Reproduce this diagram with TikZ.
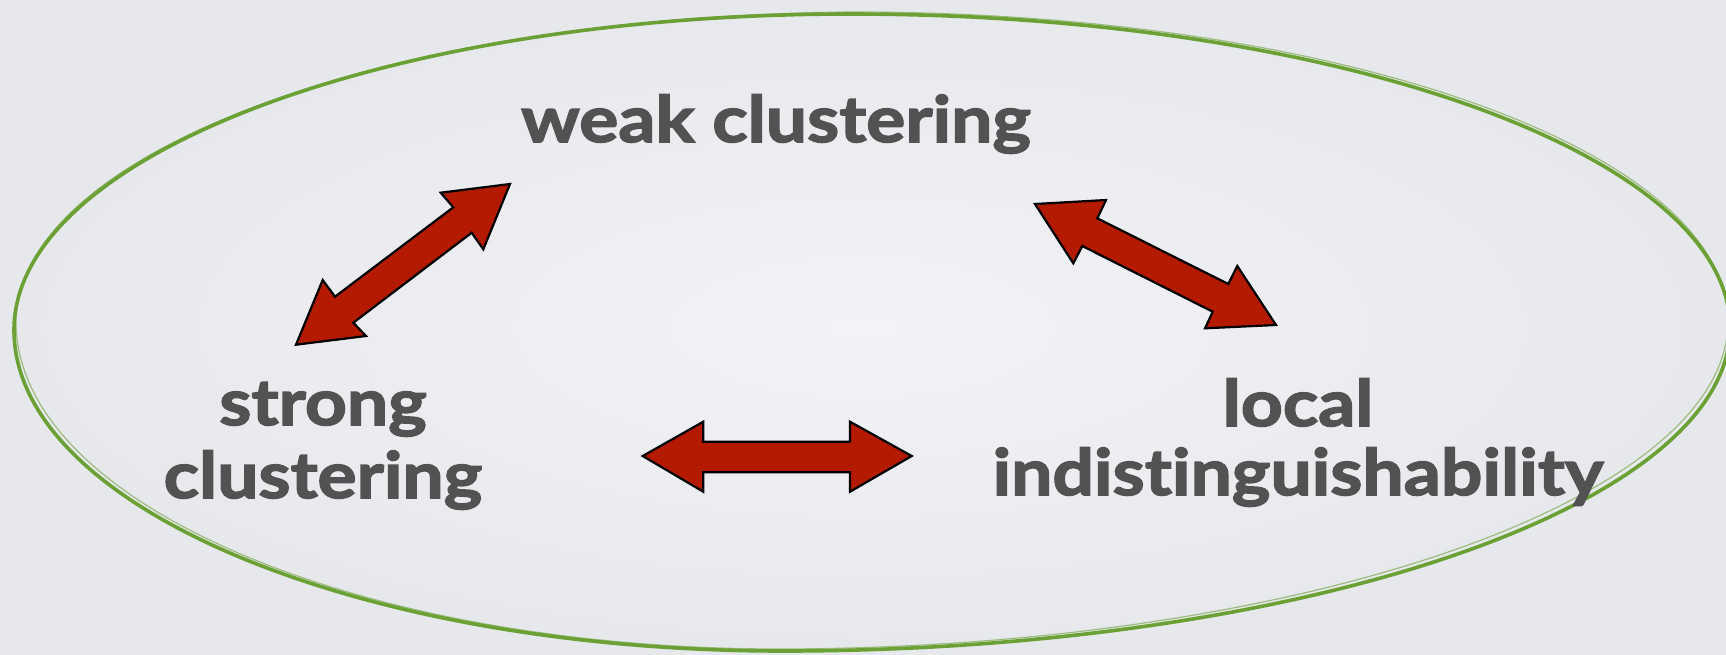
\documentclass[tikz,border=0pt]{standalone}
\usepackage{fontspec}
\setmainfont{Lato}[Ligatures=NoCommon, BoldFeatures={FakeBold=2.4, FakeStretch=1.143}]
\definecolor{txt}{RGB}{82,82,82}
\definecolor{arr}{RGB}{180,26,0}
\definecolor{grn}{RGB}{106,160,52}
\definecolor{bgin}{RGB}{242,243,246}
\definecolor{bgout}{RGB}{231,232,236}
\begin{document}
\begin{tikzpicture}[x=1pt,y=-1pt,
  lbl/.style={text=txt, font=\fontsize{64}{71}\selectfont\bfseries, align=center, inner sep=0pt},
  barrow/.style={fill=arr, draw=black, line width=2.2pt, line join=miter},
  ring/.style={draw=grn, line width=3.6pt}]
\useasboundingbox (0,0) rectangle (1726,654);
\shade[inner color=bgin, outer color=bgout] (0,0) rectangle (1726,654);
% ring
\draw[ring] (14,330) .. controls (14,155.5) and (388,14) .. (850,14)
  .. controls (1335,14) and (1730,155) .. (1730,328)
  .. controls (1730,505) and (1305,651) .. (783,651)
  .. controls (358,651) and (14,507) .. cycle;
\draw[draw=grn, line width=1.2pt, opacity=0.6] (16,322) .. controls (18,150) and (392,16) .. (852,12)
  .. controls (1338,12) and (1728,150) .. (1728,322)
  .. controls (1727,500) and (1300,648) .. (780,649)
  .. controls (360,649) and (17,505) .. cycle;
% labels
\node[lbl, anchor=base] (weak) at (776,142) {weak clustering};
\node[lbl, font=\fontsize{64}{73}\selectfont\bfseries, anchor=base] (strong) at (323,498) {strong\\clustering};
\node[lbl, font=\fontsize{64}{69}\selectfont\bfseries, anchor=base] (local) at (1298,495) {local\\indistinguishability};
% arrows
\draw[barrow] (510,184) -- (483.3,249.3) -- (471.7,232.7) -- (353.3,322.7) -- (366,336)
  -- (296,344.7) -- (322.7,280) -- (335,296.7) -- (453.3,207.3) -- (440.7,192.7) -- cycle;
\draw[barrow] (1035,204) -- (1106,200) -- (1097.3,218.3) -- (1228.3,284) -- (1237.3,266)
  -- (1276,325) -- (1205,328.3) -- (1212.7,311.7) -- (1082.3,246) -- (1073.3,263.3) -- cycle;
\draw[barrow] (642.7,456) -- (703.3,421.7) -- (703.3,441.7) -- (850,441.7) -- (850,421.7)
  -- (911.7,456) -- (850,491.7) -- (850,472.3) -- (703.3,472.3) -- (703.3,491.7) -- cycle;
\end{tikzpicture}
\end{document}
